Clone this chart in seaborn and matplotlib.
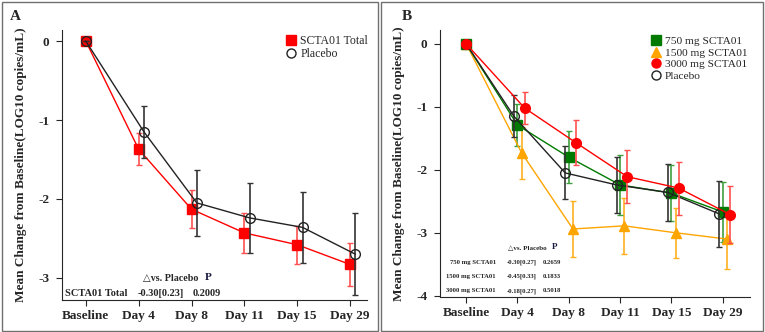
import numpy as np
import pandas as pd
import matplotlib.pyplot as plt
import seaborn as sns
from matplotlib.lines import Line2D
from matplotlib.patches import Rectangle

# visit labels
days = ['Baseline', 'Day 4', 'Day 8', 'Day 11', 'Day 15', 'Day 29']

# panel A: pooled SCTA01 vs placebo (mean change, SE)
total_mean = [0, -1.37, -2.13, -2.43, -2.58, -2.83]
total_err = [0, 0.20, 0.24, 0.25, 0.24, 0.27]
placebo_mean = [0, -1.15, -2.05, -2.24, -2.36, -2.70]
placebo_err = [0, 0.33, 0.42, 0.44, 0.45, 0.52]

# panel B: by dose
d750_mean = [0, -1.29, -1.80, -2.24, -2.37, -2.67]
d750_err = [0, 0.33, 0.41, 0.47, 0.45, 0.47]
d1500_mean = [0, -1.73, -2.94, -2.89, -3.00, -3.10]
d1500_err = [0, 0.41, 0.44, 0.44, 0.40, 0.48]
d3000_mean = [0, -1.02, -1.57, -2.11, -2.29, -2.71]
d3000_err = [0, 0.25, 0.36, 0.42, 0.42, 0.45]

sns.set_style("ticks")
plt.rcParams['font.family'] = ['Liberation Serif', 'DejaVu Serif']
plt.rcParams['font.weight'] = 'bold'

fig = plt.figure(figsize=(7.65, 3.32), dpi=100)

# panel frames
for x0, w in [(0.002, 0.492), (0.498, 0.499)]:
    fig.patches.append(Rectangle((x0, 0.004), w, 0.99, transform=fig.transFigure,
                                 fill=False, edgecolor='#707070', lw=1.0))

axA = fig.add_axes([62 / 765, 32 / 332, 305 / 765, 270 / 332])
axB = fig.add_axes([440 / 765, 35 / 332, 310 / 765, 267 / 332])


def draw(ax, mean, err, offset, color, ecolor, marker, ms, face, label, z):
    x = np.arange(len(days)) + offset * (np.arange(len(days)) > 0)
    df = pd.DataFrame({'x': x, 'y': mean})
    ax.errorbar(x, mean, yerr=err, fmt='none', ecolor=ecolor, elinewidth=1.2,
                capsize=2.5, capthick=1.0, zorder=z)
    sns.lineplot(data=df, x='x', y='y', ax=ax, color=color, lw=1.0, marker=marker,
                 markersize=ms, markerfacecolor=face, markeredgecolor=color,
                 markeredgewidth=1.0, label=label, zorder=z + 1, legend=False)


# panel A
draw(axA, total_mean, total_err, 0.0, '#ff0000', '#ff5050', 's', 7, '#ff0000', 'SCTA01 Total', 3)
draw(axA, placebo_mean, placebo_err, 0.1, '#222222', '#333333', 'o', 7, 'none', 'Placebo', 5)

# panel B
draw(axB, placebo_mean, placebo_err, -0.07, '#222222', '#333333', 'o', 7, 'none', 'Placebo', 5)
draw(axB, d750_mean, d750_err, 0.0, '#007a00', '#40a040', 's', 7, '#007a00', '750 mg SCTA01', 3)
draw(axB, d1500_mean, d1500_err, 0.08, '#ffa500', '#ffb020', '^', 7, '#ffa500', '1500 mg SCTA01', 2)
draw(axB, d3000_mean, d3000_err, 0.14, '#ff0000', '#ff5050', 'o', 7, '#ff0000', '3000 mg SCTA01', 7)

for ax, lims, yt in [(axA, (-3.28, 0.14), [0, -1, -2, -3]),
                     (axB, (-4.02, 0.22), [0, -1, -2, -3, -4])]:
    ax.set_ylim(*lims)
    ax.set_yticks(yt)
    ax.set_yticklabels([str(v) for v in yt], fontsize=9.5, fontweight='bold')
    ax.set_xticks(range(len(days)))
    ax.set_xticklabels(days, fontsize=9.5, fontweight='bold')
    ax.set_xlabel('')
    ax.set_ylabel('Mean Change from Baseline(LOG10 copies/mL)', fontsize=9.5,
                  fontweight='bold', labelpad=8)
    sns.despine(ax=ax)
    ax.tick_params(length=4, width=0.8)
    ax.tick_params(axis='y', pad=5)
    ax.tick_params(axis='x', pad=3)
    for s in ['left', 'bottom']:
        ax.spines[s].set_linewidth(0.8)
axA.set_xlim(-0.45, 5.32)
axB.set_xlim(-0.51, 5.53)

# legends (markers only)
hA = [Line2D([], [], ls='none', marker='s', ms=6.5, color='#ff0000'),
      Line2D([], [], ls='none', marker='o', ms=6.5, mfc='none', mec='#222222')]
axA.legend(hA, ['SCTA01 Total', 'Placebo'], loc='upper left',
           bbox_to_anchor=(285 / 765, 1 - 35 / 332),
           frameon=False, prop={'size': 8.5, 'weight': 'normal'}, handletextpad=0.3,
           labelspacing=0.12, handlelength=1.0, borderaxespad=0, borderpad=0,
           bbox_transform=fig.transFigure)
hB = [Line2D([], [], ls='none', marker='s', ms=6.5, color='#007a00'),
      Line2D([], [], ls='none', marker='^', ms=6.5, color='#ffa500'),
      Line2D([], [], ls='none', marker='o', ms=6.5, color='#ff0000'),
      Line2D([], [], ls='none', marker='o', ms=6.5, mfc='none', mec='#222222')]
axB.legend(hB, ['750 mg SCTA01', '1500 mg SCTA01', '3000 mg SCTA01', 'Placebo'],
           loc='upper left', bbox_to_anchor=(650 / 765, 1 - 36 / 332), frameon=False,
           prop={'size': 8.2, 'weight': 'normal'}, handletextpad=0.3,
           labelspacing=0.14, handlelength=1.0, borderaxespad=0, borderpad=0,
           bbox_transform=fig.transFigure)

# panel letters
fig.text(10 / 765, 1 - 16 / 332, 'A', fontsize=11, fontweight='bold', va='center')
fig.text(402 / 765, 1 - 16 / 332, 'B', fontsize=11, fontweight='bold', va='center')

# comparison tables
fig.text(143 / 765, 1 - 278 / 332, '\u25b3vs. Placebo', fontsize=7.2, fontweight='bold', va='center')
fig.text(205 / 765, 1 - 277 / 332, 'P', fontsize=8, fontweight='bold', va='center', color='#1a1a40')
fig.text(65 / 765, 1 - 293 / 332, 'SCTA01 Total', fontsize=7.5, fontweight='bold', va='center')
fig.text(138 / 765, 1 - 293 / 332, '-0.30[0.23]', fontsize=7.5, fontweight='bold', va='center')
fig.text(193 / 765, 1 - 293 / 332, '0.2009', fontsize=7.5, fontweight='bold', va='center')

fig.text(508 / 765, 1 - 248 / 332, '\u25b3vs. Placebo', fontsize=5, fontweight='bold', va='center')
fig.text(552 / 765, 1 - 247 / 332, 'P', fontsize=6.5, fontweight='bold', va='center', color='#1a1a40')
rows = [('750 mg SCTA01', '-0.30[0.27]', '0.2659'),
        ('1500 mg SCTA01', '-0.45[0.33]', '0.1833'),
        ('3000 mg SCTA01', '-0.18[0.27]', '0.5018')]
for i, (lab, d, p) in enumerate(rows):
    y = 1 - (262.5 + 14.2 * i) / 332
    fig.text(496 / 765, y, lab, fontsize=4.8, fontweight='bold', va='center', ha='right')
    fig.text(507 / 765, y, d, fontsize=4.8, fontweight='bold', va='center')
    fig.text(543 / 765, y, p, fontsize=4.8, fontweight='bold', va='center')

fig.savefig('out.png', dpi=100)
